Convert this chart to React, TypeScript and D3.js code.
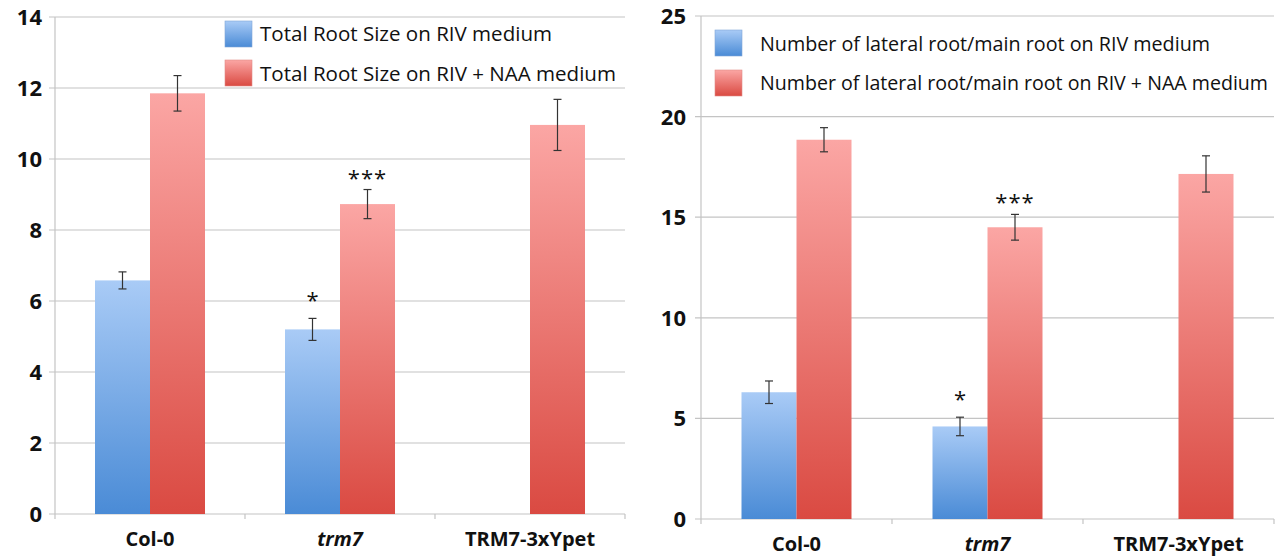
import React from "react";
import * as d3 from "d3";

const categories = ["Col-0", "trm7", "TRM7-3xYpet"];

const leftRiv: (number | null)[] = [6.58, 5.2, null];
const leftRivErr: (number | null)[] = [0.24, 0.31, null];
const leftNaa = [11.85, 8.73, 10.96];
const leftNaaErr = [0.5, 0.41, 0.72];
const leftTicks = [0, 2, 4, 6, 8, 10, 12, 14];
const leftLegend = ["Total Root Size on RIV medium", "Total Root Size on RIV + NAA medium"];
const leftStars = ["", "*", ""];
const leftStarsNaa = ["", "***", ""];

const rightRiv: (number | null)[] = [6.3, 4.6, null];
const rightRivErr: (number | null)[] = [0.56, 0.46, null];
const rightNaa = [18.85, 14.5, 17.15];
const rightNaaErr = [0.6, 0.64, 0.9];
const rightTicks = [0, 5, 10, 15, 20, 25];
const rightLegend = [
  "Number of lateral root/main root on RIV medium",
  "Number of lateral root/main root on RIV + NAA medium",
];

const FONT = "'Open Sans', 'Noto Sans', sans-serif";

type PanelProps = {
  x0: number; x1: number; yTop: number; yBottom: number; yMax: number;
  ticks: number[];
  riv: (number | null)[]; rivErr: (number | null)[];
  naa: number[]; naaErr: number[];
  legend: string[];
  legendLen: number[];
  legendBox: { x: number; y: number; w: number; h: number };
  sw: { x: number; y1: number; y2: number };
  textX: number; textY1: number; textY2: number;
  labelRight: number; xLabelY: number;
  stars: string[]; starsNaa: string[];
};

function Panel(p: PanelProps) {
  const x = d3.scaleBand<string>().domain(categories).range([p.x0, p.x1]).padding(0);
  const y = d3.scaleLinear().domain([0, p.yMax]).range([p.yBottom, p.yTop]);
  const barW = 55;
  const grid = "#c4c4c4";
  return (
    <g>
      {p.ticks.map((t) => (
        <g key={t}>
          <line x1={p.x0 - 6} x2={p.x1} y1={y(t)} y2={y(t)} stroke={grid} strokeWidth={1.2} />
          <text x={p.labelRight} y={y(t)} dy="0.36em" textAnchor="end" fontFamily={FONT}
            fontWeight="bold" fontSize={22} fill="#111">{t}</text>
        </g>
      ))}
      <line x1={p.x0} x2={p.x0} y1={p.yTop} y2={p.yBottom} stroke={grid} strokeWidth={1.2} />
      {[0, 1, 2, 3].map((i) => {
        const xx = p.x0 + i * x.bandwidth();
        return <line key={i} x1={xx} x2={xx} y1={p.yBottom} y2={p.yBottom + 5} stroke={grid} strokeWidth={1.2} />;
      })}
      <rect x={p.legendBox.x} y={p.legendBox.y} width={p.legendBox.w} height={p.legendBox.h} fill="#fff" />
      <rect x={p.sw.x} y={p.sw.y1} width={27} height={26} fill="url(#gBlue)" stroke="#7fa6d8" strokeWidth={0.6} />
      <rect x={p.sw.x} y={p.sw.y2} width={27} height={26} fill="url(#gRed)" stroke="#e08a86" strokeWidth={0.6} />
      <text x={p.textX} y={p.textY1} dy="0.35em" fontFamily={FONT} fontSize={20} fill="#111"
        textLength={p.legendLen[0]} lengthAdjust="spacingAndGlyphs">{p.legend[0]}</text>
      <text x={p.textX} y={p.textY2} dy="0.35em" fontFamily={FONT} fontSize={20} fill="#111"
        textLength={p.legendLen[1]} lengthAdjust="spacingAndGlyphs">{p.legend[1]}</text>
      {categories.map((c, i) => {
        const cx = (x(c) as number) + x.bandwidth() / 2;
        const b = p.riv[i];
        const be = p.rivErr[i];
        const r = p.naa[i];
        const re = p.naaErr[i];
        return (
          <g key={c}>
            {b != null && (
              <rect x={cx - barW} y={y(b)} width={barW} height={y(0) - y(b)} fill="url(#gBlue)" />
            )}
            <rect x={cx} y={y(r)} width={barW} height={y(0) - y(r)} fill="url(#gRed)" />
            {b != null && be != null && (
              <g stroke="#333" strokeWidth={1.2}>
                <line x1={cx - barW / 2} x2={cx - barW / 2} y1={y(b + be)} y2={y(b - be)} />
                <line x1={cx - barW / 2 - 4} x2={cx - barW / 2 + 4} y1={y(b + be)} y2={y(b + be)} />
                <line x1={cx - barW / 2 - 4} x2={cx - barW / 2 + 4} y1={y(b - be)} y2={y(b - be)} />
              </g>
            )}
            <g stroke="#333" strokeWidth={1.2}>
              <line x1={cx + barW / 2} x2={cx + barW / 2} y1={y(r + re)} y2={y(r - re)} />
              <line x1={cx + barW / 2 - 4} x2={cx + barW / 2 + 4} y1={y(r + re)} y2={y(r + re)} />
              <line x1={cx + barW / 2 - 4} x2={cx + barW / 2 + 4} y1={y(r - re)} y2={y(r - re)} />
            </g>
            {b != null && be != null && p.stars[i] && (
              <text x={cx - barW / 2} y={y(b + be) - 10} textAnchor="middle" fontFamily={FONT}
                fontSize={22} fill="#111">{p.stars[i]}</text>
            )}
            {p.starsNaa[i] && (
              <text x={cx + barW / 2} y={y(r + re) - 4} textAnchor="middle" fontFamily={FONT}
                fontSize={22} letterSpacing={1} fill="#111">{p.starsNaa[i]}</text>
            )}
            <text x={cx} y={p.xLabelY} textAnchor="middle" fontFamily={FONT} fontWeight="bold"
              fontStyle={c === "trm7" ? "italic" : "normal"} fontSize={20} fill="#111">{c}</text>
          </g>
        );
      })}
    </g>
  );
}

export default function App() {
  return (
    <svg width={1275} height={556} style={{ position: "absolute", left: 0, top: 0, background: "#fff" }}>
      <defs>
        <linearGradient id="gBlue" x1="0" y1="0" x2="0" y2="1">
          <stop offset="0" stopColor="#a9cbf6" />
          <stop offset="1" stopColor="#4a8bd6" />
        </linearGradient>
        <linearGradient id="gRed" x1="0" y1="0" x2="0" y2="1">
          <stop offset="0" stopColor="#fba6a4" />
          <stop offset="1" stopColor="#da4a42" />
        </linearGradient>
      </defs>
      <rect width={1275} height={556} fill="#fff" />
      <Panel
        x0={55} x1={625} yTop={17} yBottom={514} yMax={14} ticks={leftTicks}
        riv={leftRiv} rivErr={leftRivErr} naa={leftNaa} naaErr={leftNaaErr}
        legend={leftLegend} legendLen={[292, 356]}
        legendBox={{ x: 218, y: 18, w: 406, h: 69 }}
        sw={{ x: 225, y1: 21, y2: 60 }}
        textX={260} textY1={34} textY2={74}
        labelRight={42} xLabelY={546}
        stars={leftStars} starsNaa={leftStarsNaa}
      />
      <Panel
        x0={701} x1={1274} yTop={16} yBottom={519} yMax={25} ticks={rightTicks}
        riv={rightRiv} rivErr={rightRivErr} naa={rightNaa} naaErr={rightNaaErr}
        legend={rightLegend} legendLen={[450, 508]}
        legendBox={{ x: 705, y: 22, w: 568, h: 82 }}
        sw={{ x: 715, y1: 30, y2: 70 }}
        textX={760} textY1={44} textY2={83}
        labelRight={686} xLabelY={551}
        stars={leftStars} starsNaa={leftStarsNaa}
      />
    </svg>
  );
}
